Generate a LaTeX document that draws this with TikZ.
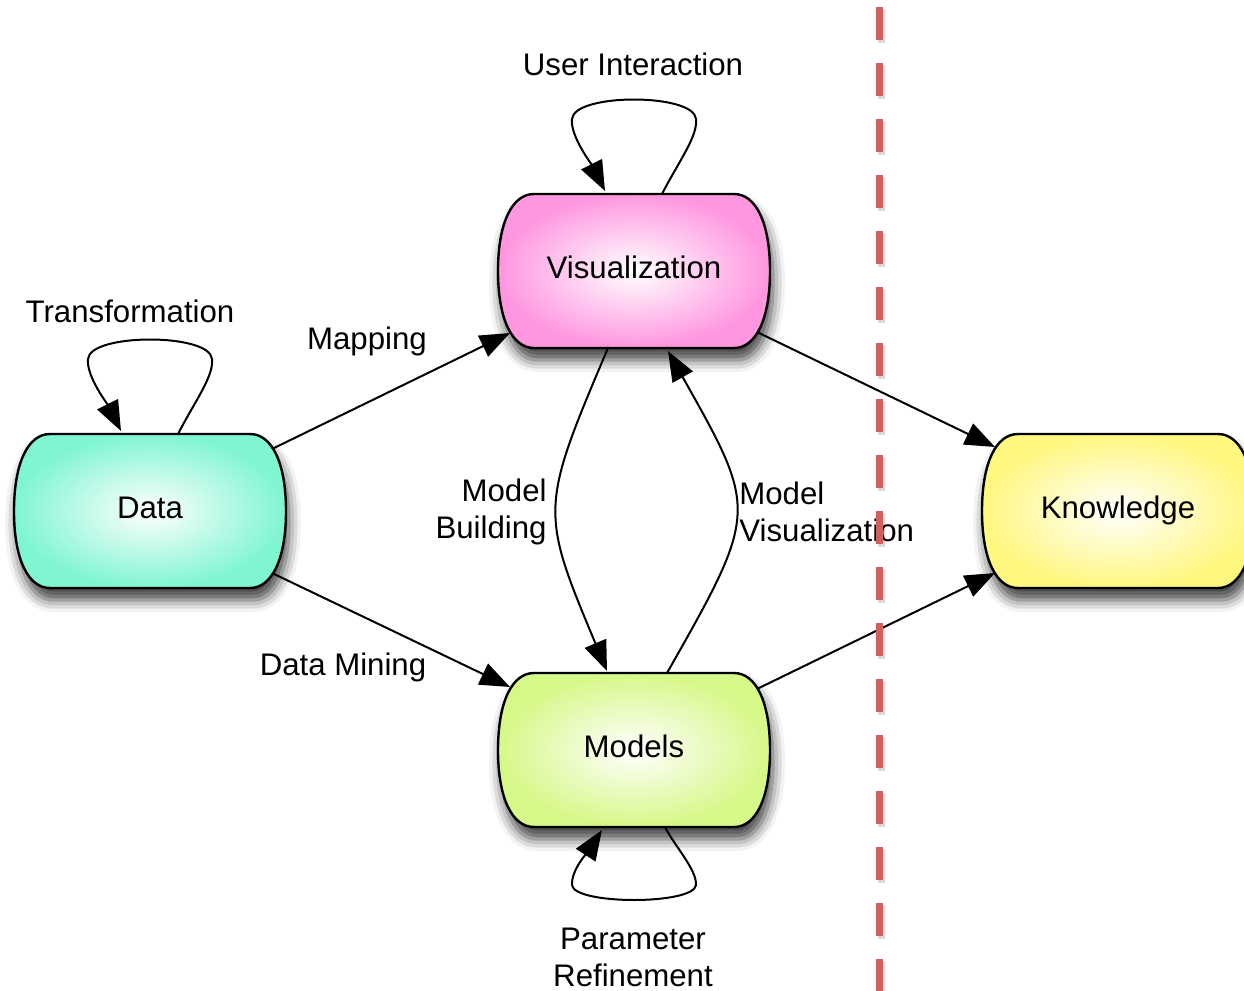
\documentclass[tikz,border=0pt]{standalone}
\usepackage{fontspec}
\setmainfont{Liberation Sans}
\usetikzlibrary{arrows.meta,calc,shadows.blur,backgrounds}

\definecolor{viscol}{RGB}{255,150,224}
\definecolor{datacol}{RGB}{128,245,210}
\definecolor{knowcol}{RGB}{255,247,128}
\definecolor{modcol}{RGB}{214,248,136}
\definecolor{dividercol}{RGB}{207,96,91}

\begin{document}
\begin{tikzpicture}[x=0.5pt,y=-0.5pt,
  every node/.style={font=\fontsize{15.6}{18.5}\selectfont},
  lbl/.style={inner sep=0pt, text height=0.75em, text depth=0.25em},
  stagelbl/.style={inner sep=0pt, text height=0.85em, text depth=0.15em},
  multi/.style={inner sep=0pt},
  conn/.style={line width=1pt, black,
    -{Triangle[length=15pt,width=11.5pt,fill=black]}},
  blob outline/.style={insert path={
    (-100,-77) -- (100,-77)
    .. controls (122,-77) and (136,-48) .. (136,0)
    .. controls (136,48) and (122,77) .. (100,77)
    -- (-100,77)
    .. controls (-122,77) and (-136,48) .. (-136,0)
    .. controls (-136,-48) and (-122,-77) .. cycle}},
  blobshape/.style={draw=black, line width=1.2pt, shade, shading=radial,
    inner color=white, outer color=#1,
    blur shadow={shadow xshift=1.5pt, shadow yshift=-6pt,
      shadow blur radius=6pt, shadow opacity=75}},
  divider/.style={line width=3.5pt, dividercol, dash pattern=on 16.5pt off 11.5pt},
  dividershadow/.style={line width=3.5pt, black, opacity=0.15,
    dash pattern=on 16.5pt off 11.5pt}]

\useasboundingbox (0,0) rectangle (1244,991);

% main stages
\node[stagelbl] (vis)  at (634,271)  {Visualization};
\node[stagelbl] (data) at (150,511)  {Data};
\node[stagelbl] (know) at (1118,511) {Knowledge};
\node[stagelbl] (mod)  at (634,750)  {Models};

% rounded stage boxes behind the labels
\begin{pgfonlayer}{background}
  \path[blobshape=viscol,  shift={(vis.center)},  blob outline];
  \path[blobshape=datacol, shift={(data.center)}, blob outline];
  \path[blobshape=knowcol, shift={(know.center)}, blob outline];
  \path[blobshape=modcol,  shift={(mod.center)},  blob outline];
\end{pgfonlayer}

% straight transitions
\draw[conn] ($(data.center)+(122,-62)$) -- ($(vis.center)+(-124,62)$);
\draw[conn] ($(data.center)+(122,62)$)  -- ($(mod.center)+(-124,-63)$);
\draw[conn] ($(vis.center)+(123,61)$)   -- ($(know.center)+(-123,-64)$);
\draw[conn] ($(mod.center)+(123,-61)$)  -- ($(know.center)+(-123,62)$);

% curved transitions between visualization and models
\draw[conn] ($(vis.center)+(-26,77)$)
  .. controls +(-68,160) and +(-67,-160) .. ($(mod.center)+(-27,-79)$);
\draw[conn] ($(mod.center)+(33,-77)$)
  .. controls +(92,-162) and +(90,160) .. ($(vis.center)+(34,80)$);

% self loops
\draw[conn] ($(vis.center)+(28,-77)$)
  .. controls +(17,-33) and +(2,17) .. ($(vis.center)+(62,-152)$)
  .. controls +(-2,-26) and +(2,-26) .. ($(vis.center)+(-62,-152)$)
  .. controls +(-2,17) and +(-13,-26) .. ($(vis.center)+(-29,-80)$);
\draw[conn] ($(data.center)+(28,-77)$)
  .. controls +(17,-33) and +(2,17) .. ($(data.center)+(62,-152)$)
  .. controls +(-2,-26) and +(2,-26) .. ($(data.center)+(-62,-152)$)
  .. controls +(-2,17) and +(-13,-26) .. ($(data.center)+(-29,-80)$);
\draw[conn] ($(mod.center)+(31,77)$)
  .. controls +(9,18) and +(1,-15) .. ($(mod.center)+(62,135)$)
  .. controls +(-2,20) and +(2,20) .. ($(mod.center)+(-62,135)$)
  .. controls +(-1,-15) and +(-13,20) .. ($(mod.center)+(-32,80)$);

% edge labels
\node[lbl] (ui) at (633,70)  {User Interaction};
\node[lbl] (tr) at (130,317) {Transformation};
\node[lbl] (mp) at (367,344) {Mapping};
\node[lbl] (dm) at (343,670) {Data Mining};
\node[multi, align=right, anchor=east] (mb) at (547,512) {Model\\Building};
\node[multi, align=left, anchor=west]  (mv) at (739,512) {Model\\Visualization};
\node[multi, align=center] (pr) at (633,957) {Parameter\\Refinement};

% boundary between the system and the analyst
\draw[dividershadow] (881,10) -- (881,994);
\draw[divider] (879,7) -- (879,991);
\end{tikzpicture}
\end{document}
